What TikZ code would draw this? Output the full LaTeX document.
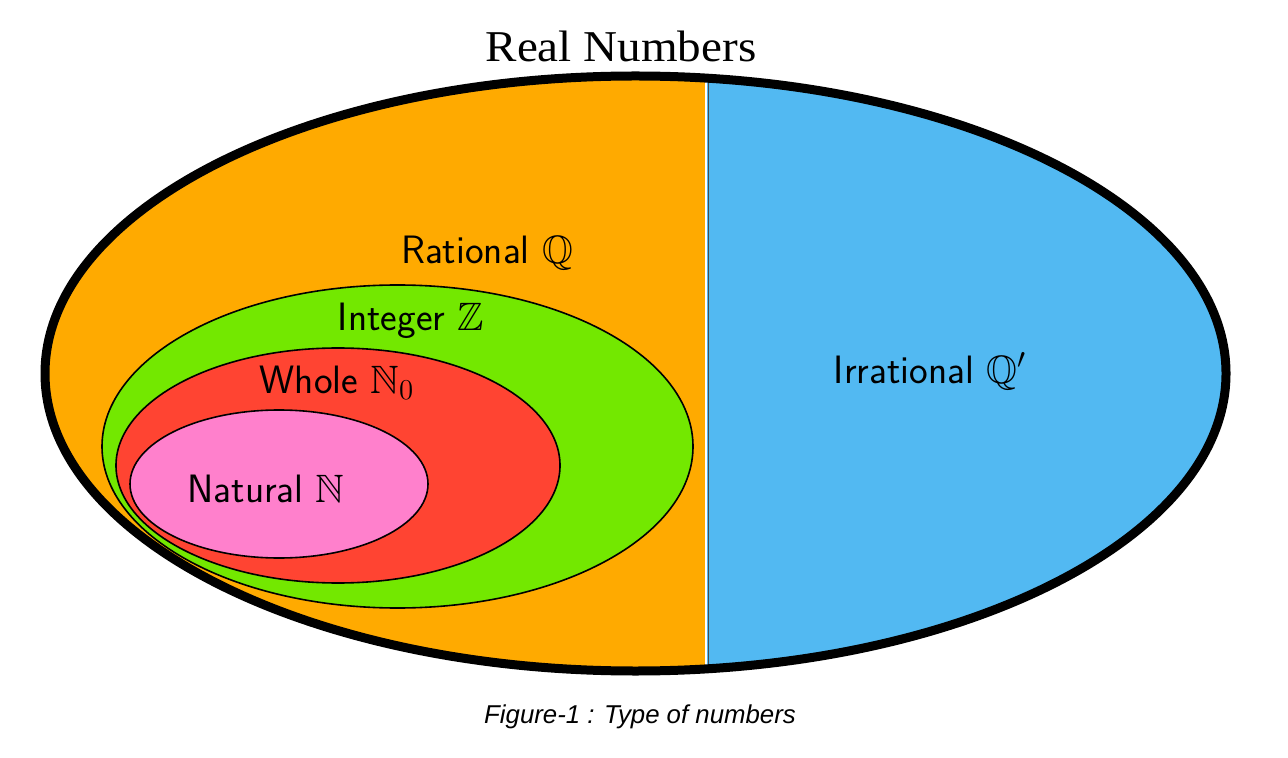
\documentclass[tikz,border=0pt]{standalone}
\usepackage{amsmath, amssymb}
\usepackage{fontspec}
\usepackage{xcolor}
\newfontfamily\titlefont{Liberation Serif}
\newfontfamily\capfont{Liberation Sans}

\definecolor{ratorange}{RGB}{255,170,0}
\definecolor{irrblue}{RGB}{82,185,242}
\definecolor{intgreen}{RGB}{115,232,0}
\definecolor{wholered}{RGB}{255,68,50}
\definecolor{natpink}{RGB}{255,128,204}

\begin{document}
\begin{tikzpicture}[x=0.5pt, y=-0.5pt]
        \tikzset{setline/.style={draw=black, line width=0.8pt}}
        \tikzset{setlabel/.style={font=\sffamily\fontsize{19.8}{23}\selectfont, inner sep=0pt}}

        \useasboundingbox (0,0) rectangle (1288,758);

        % real numbers: rational half and irrational half
        \begin{scope}
            \clip (635.5,373.5) ellipse (590.5 and 297.5);
            \fill[ratorange] (0,0) rectangle (706,758);
            \fill[irrblue] (706,0) rectangle (1288,758);
            \draw[white, line width=1pt] (706,0) -- (706,758);
            \draw[black!70, line width=0.7pt] (708.5,0) -- (708.5,758);
        \end{scope}

        % nested sets
        \filldraw[setline, fill=intgreen] (397.5,446.5) ellipse (295.5 and 161.5);
        \filldraw[setline, fill=wholered] (338,465.5) ellipse (222 and 117.5);
        \filldraw[setline, fill=natpink] (279,484) ellipse (149 and 74);

        \draw[line width=4.5pt] (635.5,373.5) ellipse (590.5 and 297.5);

        \node[setlabel] (rational) at (487,253) {Rational $\mathbb{Q}$};
        \node[setlabel] (integer) at (411,321) {Integer $\mathbb{Z}$};
        \node[setlabel] (whole) at (337,383) {Whole $\mathbb{N}_0$};
        \node[setlabel] (natural) at (266,489) {Natural $\mathbb{N}$};
        \node[setlabel] (irrational) at (930,371) {Irrational $\mathbb{Q}'$};

        \node[font=\titlefont\fontsize{22}{24}\selectfont, xscale=1.07, inner sep=0pt] (title) at (621,46) {Real Numbers};
        \node[font=\capfont\itshape\fontsize{12.9}{15}\selectfont, inner sep=0pt] (caption) at (640,717) {Figure-1 : Type of numbers};
    \end{tikzpicture}
\end{document}
